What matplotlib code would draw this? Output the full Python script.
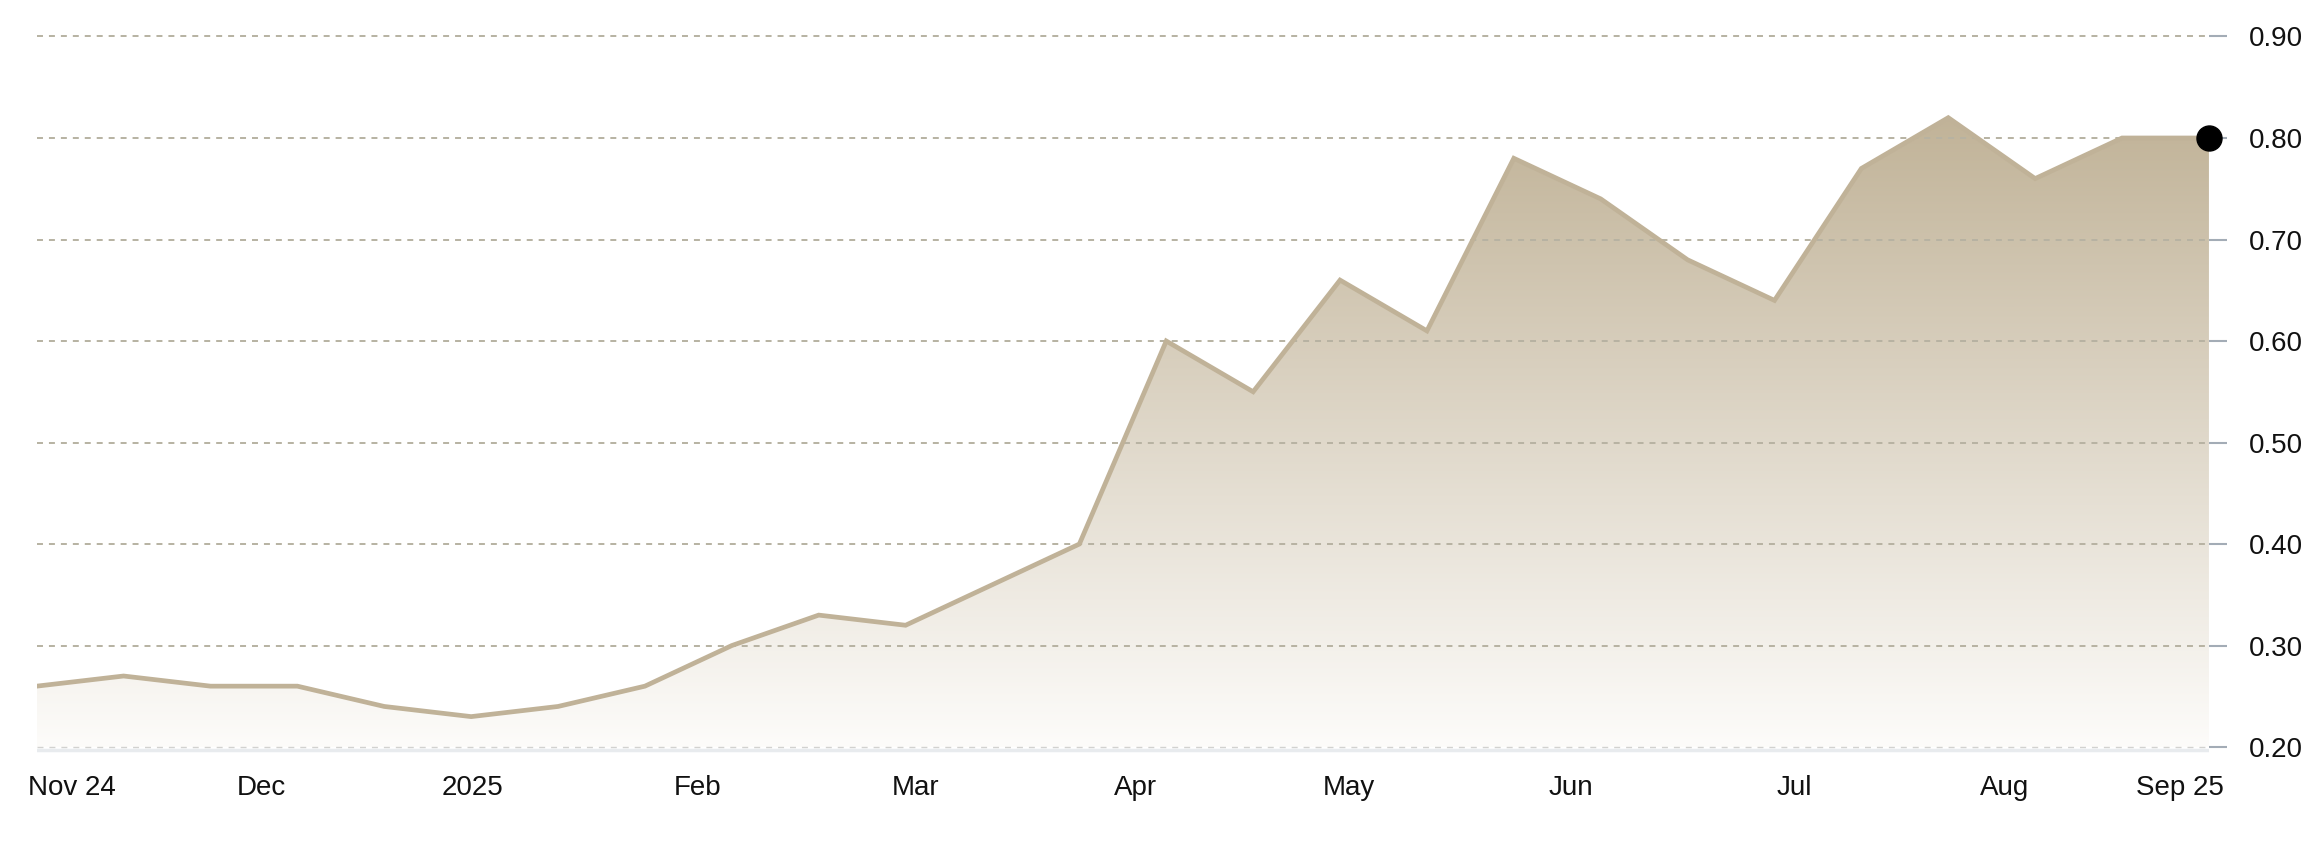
import numpy as np
import matplotlib
matplotlib.use('Agg')
import matplotlib.pyplot as plt
from matplotlib.colors import LinearSegmentedColormap

plt.rcParams['font.family'] = ['Liberation Sans', 'DejaVu Sans']
plt.rcParams['lines.scale_dashes'] = False

# price series (one point per step, index positions on the x axis)
values = [0.26, 0.27, 0.26, 0.26, 0.24, 0.23, 0.24, 0.26, 0.30, 0.33,
          0.32, 0.36, 0.40, 0.60, 0.55, 0.66, 0.61, 0.78, 0.74, 0.68,
          0.64, 0.77, 0.82, 0.76, 0.80, 0.80]
x_labels = ['Nov 24', 'Dec', '2025', 'Feb', 'Mar', 'Apr', 'May', 'Jun',
            'Jul', 'Aug', 'Sep 25']
x_label_pos = [0.41, 2.59, 5.01, 7.61, 10.11, 12.65, 15.10, 17.66,
               20.23, 22.65, 24.67]
y_ticks = [0.2, 0.3, 0.4, 0.5, 0.6, 0.7, 0.8, 0.9]

x = np.arange(len(values))
y = np.array(values)

fig = plt.figure(figsize=(23.23, 8.56), dpi=100)
ax = fig.add_axes([0.0158, 0.1154, 0.9351, 0.8657])
ax.set_xlim(0, len(values) - 1)
ax.set_ylim(0.19, 0.92)

# gradient fill under the line
cmap = LinearSegmentedColormap.from_list('sand', ['#fdfcfa', '#c1b398'])
grad = np.linspace(0, 1, 256).reshape(-1, 1)
poly = ax.fill_between(x, y, 0.2, color='none', lw=0)
img = ax.imshow(grad, cmap=cmap, aspect='auto', origin='lower',
                extent=[0, len(values) - 1, 0.2, y.max()], zorder=1)
img.set_clip_path(poly.get_paths()[0], transform=ax.transData)

# grid lines
ax.axhline(0.197, color='#e8ebee', lw=2.5, zorder=0.5)
for v in y_ticks:
    if v == 0.2:
        ax.axhline(v, color='#d2d2d0', lw=1.0, dashes=(4.3, 4.3), zorder=2)
    else:
        ax.axhline(v, color='#b7b2a2', lw=1.4, dashes=(4.3, 4.3), zorder=2)

ax.plot(x, y, color='#c0b298', lw=3.4, solid_joinstyle='miter', zorder=3)
ax.plot(x[-1], y[-1], 'o', color='black', ms=18, zorder=4, clip_on=False)

for s in ax.spines.values():
    s.set_visible(False)

ax.yaxis.tick_right()
ax.set_yticks(y_ticks)
ax.set_yticklabels(['%.2f' % v for v in y_ticks])
ax.tick_params(axis='y', length=13, width=1.5, color='#a3acb6', pad=16,
               labelsize=20, labelcolor='#111111')

ax.set_xticks(x_label_pos)
ax.set_xticklabels(x_labels)
ax.tick_params(axis='x', length=0, pad=13, labelsize=20, labelcolor='#111111')

fig.savefig('out.png', dpi=100, facecolor='white')
